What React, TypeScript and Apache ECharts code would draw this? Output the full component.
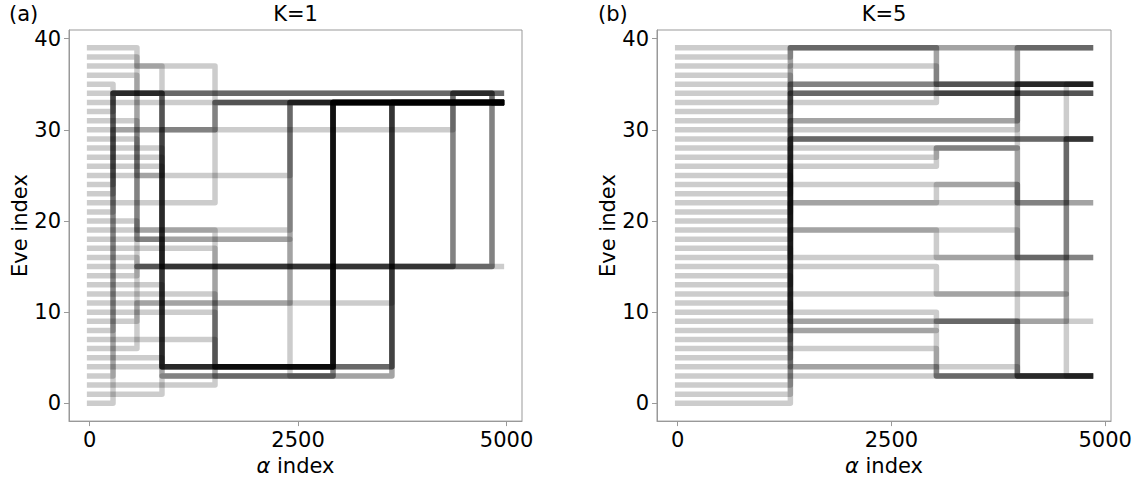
import React, { useEffect, useRef } from "react";
import * as echarts from "echarts";

// ---------- data ----------
const EVE_COUNT = 40;
const X_TICKS = [0, 2500, 5000];
const Y_TICKS = [0, 10, 20, 30, 40];

// Panel (a), K=1: resampling times and moves [fromEve, toEve, particles]
const eventsA = [281, 568, 868, 1504, 2403, 2919, 3625, 4357, 4825];
const endA = 4938;
const movesA: number[][][] = [
  [[35, 34, 1], [32, 34, 1], [23, 34, 1], [21, 34, 1], [8, 34, 1], [3, 34, 1], [0, 34, 1], [24, 30, 1]],
  [[39, 37, 1], [38, 25, 1], [36, 19, 1], [31, 18, 1], [29, 18, 1], [20, 15, 1], [16, 15, 1], [14, 15, 1], [9, 15, 1], [6, 11, 1]],
  [[37, 34, 1], [34, 4, 5], [28, 15, 1], [26, 15, 1], [25, 30, 1], [13, 4, 1], [5, 4, 1], [1, 3, 1], [18, 3, 1], [27, 3, 1]],
  [[37, 33, 1], [30, 33, 2], [22, 33, 1], [17, 4, 1], [12, 4, 1], [10, 4, 1], [7, 4, 1], [2, 4, 1], [19, 3, 1]],
  [[25, 33, 1], [19, 33, 1], [18, 33, 1], [18, 3, 1], [11, 33, 1]],
  [[4, 33, 9], [3, 33, 3]],
  [[11, 33, 1], [4, 33, 4], [3, 33, 2]],
  [[30, 34, 1], [15, 34, 3]],
  [[34, 33, 4], [15, 33, 3]],
];

// Panel (b), K=5
const eventsB = [1318, 3026, 3973, 4546];
const endB = 4828;
const movesB: number[][][] = [
  [[0, 29, 1], [1, 4, 1], [2, 15, 1], [4, 8, 1], [5, 22, 1], [6, 4, 1], [7, 12, 1], [8, 19, 1], [9, 6, 1], [10, 29, 1],
   [11, 8, 1], [12, 28, 1], [13, 24, 1], [14, 9, 1], [15, 31, 1], [16, 34, 1], [17, 16, 1], [18, 29, 1], [20, 34, 1],
   [21, 22, 1], [22, 26, 1], [23, 35, 1], [24, 27, 1], [25, 10, 1], [26, 9, 1], [27, 29, 1], [28, 30, 1], [29, 33, 1],
   [30, 31, 1], [31, 37, 1], [32, 34, 1], [33, 35, 1], [34, 39, 1], [36, 34, 1], [37, 39, 1], [38, 39, 1]],
  [[39, 35, 1], [39, 34, 1], [37, 35, 1], [33, 34, 1], [27, 28, 1], [26, 28, 1], [22, 24, 1], [19, 16, 1], [15, 12, 1],
   [10, 9, 1], [8, 9, 1], [8, 3, 1], [6, 3, 1], [4, 3, 1]],
  [[34, 39, 1], [31, 39, 1], [31, 35, 1], [30, 35, 1], [28, 35, 1], [28, 16, 1], [28, 3, 1], [24, 22, 2], [19, 16, 1],
   [9, 3, 2], [4, 3, 1]],
  [[22, 29, 1], [16, 29, 1], [12, 29, 1], [12, 3, 1], [9, 35, 1]],
];

// ---------- build particle paths ----------
function buildPaths(events: number[], moves: number[][][], end: number): number[][][] {
  const pos: number[] = [];
  const paths: number[][][] = [];
  for (let p = 0; p < EVE_COUNT; p++) {
    pos.push(p);
    paths.push([[0, p]]);
  }
  events.forEach((t, k) => {
    const moved = new Array(EVE_COUNT).fill(false);
    for (const [from, to, count] of moves[k]) {
      let left = count;
      for (let p = 0; p < EVE_COUNT && left > 0; p++) {
        if (!moved[p] && pos[p] === from) {
          paths[p].push([t, from]);
          paths[p].push([t, to]);
          pos[p] = to;
          moved[p] = true;
          left--;
        }
      }
    }
  });
  for (let p = 0; p < EVE_COUNT; p++) paths[p].push([end, pos[p]]);
  return paths;
}

const FONT = "DejaVu Sans";
const AXIS_GRAY = "#999999";

function xAxis(gridIndex: number, min: number, max: number) {
  return {
    type: "value",
    gridIndex,
    min,
    max,
    axisLine: { show: true, onZero: false, lineStyle: { color: AXIS_GRAY, width: 1 } },
    axisTick: { show: true, length: 5, customValues: X_TICKS, lineStyle: { color: AXIS_GRAY } },
    axisLabel: {
      customValues: X_TICKS,
      formatter: (v: number) => String(v),
      color: "#000",
      fontSize: 21,
      fontFamily: FONT,
      margin: 8,
    },
    splitLine: { show: false },
    name: "{i|α} index",
    nameLocation: "middle",
    nameGap: 31,
    nameTextStyle: {
      fontSize: 21,
      color: "#000",
      fontFamily: FONT,
      rich: { i: { fontStyle: "italic", fontSize: 21, fontFamily: FONT, color: "#000" } },
    },
  };
}

function yAxis(gridIndex: number) {
  return {
    type: "value",
    gridIndex,
    min: -1.95,
    max: 40.95,
    axisLine: { show: true, onZero: false, lineStyle: { color: AXIS_GRAY, width: 1 } },
    axisTick: { show: true, length: 5, customValues: Y_TICKS, lineStyle: { color: AXIS_GRAY } },
    axisLabel: {
      customValues: Y_TICKS,
      formatter: (v: number) => String(v),
      color: "#000",
      fontSize: 21,
      fontFamily: FONT,
      margin: 8,
    },
    splitLine: { show: false },
    name: "Eve index",
    nameLocation: "middle",
    nameGap: 36,
    nameTextStyle: { fontSize: 21, color: "#000", fontFamily: FONT },
  };
}

function makeSeries(paths: number[][][], axisIndex: number) {
  return paths.map((pts, i) => ({
    type: "line",
    name: `p${axisIndex}-${i}`,
    xAxisIndex: axisIndex,
    yAxisIndex: axisIndex,
    data: pts,
    showSymbol: false,
    symbol: "none",
    silent: true,
    lineStyle: { color: "#000", opacity: 0.2, width: 5.5, cap: "square", join: "round" },
    emphasis: { disabled: true },
  }));
}

export default function App() {
  const ref = useRef<HTMLDivElement>(null);
  useEffect(() => {
    document.body.style.margin = "0";
    const chart = echarts.init(ref.current!, undefined, { renderer: "svg", width: 1140, height: 481 });
    const pathsA = buildPaths(eventsA, movesA, endA);
    const pathsB = buildPaths(eventsB, movesB, endB);
    const option = {
      animation: false,
      backgroundColor: "#fff",
      grid: [
        { left: 69, top: 30, width: 453, height: 395, show: true, borderColor: AXIS_GRAY, borderWidth: 1, containLabel: false },
        { left: 657, top: 30, width: 454, height: 395, show: true, borderColor: AXIS_GRAY, borderWidth: 1, containLabel: false },
      ],
      xAxis: [xAxis(0, -247, 5185), xAxis(1, -242, 5068)],
      yAxis: [yAxis(0), yAxis(1)],
      series: [...makeSeries(pathsA, 0), ...makeSeries(pathsB, 1)],
      graphic: [
        { type: "text", x: 295.5, y: 14, style: { text: "K=1", align: "center", verticalAlign: "middle", fontSize: 21, fontFamily: FONT, fill: "#000" } },
        { type: "text", x: 884, y: 14, style: { text: "K=5", align: "center", verticalAlign: "middle", fontSize: 21, fontFamily: FONT, fill: "#000" } },
        { type: "text", x: 9, y: 14, style: { text: "(a)", align: "left", verticalAlign: "middle", fontSize: 21, fontFamily: FONT, fill: "#000" } },
        { type: "text", x: 598, y: 14, style: { text: "(b)", align: "left", verticalAlign: "middle", fontSize: 21, fontFamily: FONT, fill: "#000" } },
      ],
    };
    chart.setOption(option as any);
    return () => chart.dispose();
  }, []);
  return <div ref={ref} style={{ width: 1140, height: 481 }} />;
}
